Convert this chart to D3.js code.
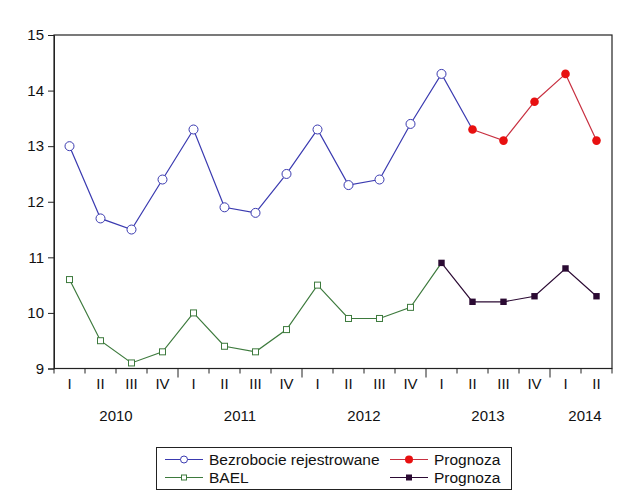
<!DOCTYPE html>
<html><head><meta charset="utf-8">
<script src="https://cdn.jsdelivr.net/npm/d3@7"></script>
<style>body{margin:0;background:#fff}svg{display:block}text{font-family:"Liberation Sans",Arial,sans-serif}</style>
</head><body>
<svg id="c" width="640" height="498"></svg>
<script>
const quarters = ["I","II","III","IV","I","II","III","IV","I","II","III","IV","I","II","III","IV","I","II"];
const years = ["2010","2011","2012","2013","2014"];
const yTicks = [9,10,11,12,13,14,15];
// Bezrobocie rejestrowane (2010 I – 2013 II, last point shared with forecast)
const registered = [13.0,11.7,11.5,12.4,13.3,11.9,11.8,12.5,13.3,12.3,12.4,13.4,14.3,13.3];
// Prognoza (registered) 2013 II – 2014 II
const registeredForecast = [13.3,13.1,13.8,14.3,13.1];
const registeredForecastStart = 13;
// BAEL (2010 I – 2013 I)
const bael = [10.6,9.5,9.1,9.3,10.0,9.4,9.3,9.7,10.5,9.9,9.9,10.1,10.9];
// Prognoza (BAEL) 2013 I – 2014 II
const baelForecast = [10.9,10.2,10.2,10.3,10.8,10.3];
const baelForecastStart = 12;

const svg = d3.select("#c");
const L = 54, R = 612, T = 35, B = 368.5;
const idx = d3.range(quarters.length);
const x = d3.scaleBand().domain(idx).range([L, R]);
const xc = i => x(i) + x.bandwidth()/2;
const y = d3.scaleLinear().domain([9,15]).range([B, T]);

const axisColor = "#222";
const FS = 15;
// frame
svg.append("rect").attr("x",L).attr("y",T).attr("width",R-L).attr("height",B-T)
  .attr("fill","none").attr("stroke",axisColor).attr("stroke-width",1.2);

// y axis
const ya = svg.append("g").attr("transform",`translate(${L},0)`)
  .call(d3.axisLeft(y).tickValues(yTicks).tickSize(6).tickPadding(4).tickFormat(d3.format("d")));
ya.select(".domain").attr("stroke",axisColor);
ya.selectAll(".tick line").attr("stroke",axisColor);
ya.selectAll("text").attr("font-size",FS).attr("fill","#111").attr("font-family","Liberation Sans, Arial, sans-serif");

// x axis ticks at band boundaries
const bounds = d3.range(quarters.length+1).map(k => L + k*x.bandwidth());
svg.append("g").selectAll("line").data(bounds).join("line")
  .attr("x1",d=>d).attr("x2",d=>d).attr("y1",B)
  .attr("y2",(d,k)=> (k%4===0 && k>0 && k<quarters.length) ? B+9 : B+5)
  .attr("stroke",axisColor).attr("stroke-width",1);
svg.append("g").selectAll("text").data(quarters).join("text")
  .attr("x",(d,i)=>xc(i)).attr("y",B+20).attr("text-anchor","middle")
  .attr("font-size",FS).attr("fill","#111").text(d=>d);
svg.append("g").selectAll("text").data(years).join("text")
  .attr("x",(d,i)=>{const s=i*4, e=Math.min(i*4+4, quarters.length); return (bounds[s]+bounds[e])/2 + (e-s<4?4:0);})
  .attr("y",B+52).attr("text-anchor","middle")
  .attr("font-size",FS).attr("fill","#111").text(d=>d);

const line = d3.line().x(d=>xc(d.i)).y(d=>y(d.v));
const pts = (arr, start) => arr.map((v,k)=>({i:start+k, v}));

const cBlue="#3a3ab0", cGreen="#3d7a3d", cRed="#e81010", cRedLine="#c83040", cDark="#2b0a33";

const regPts = pts(registered,0);
svg.append("path").attr("d",line(regPts)).attr("fill","none").attr("stroke",cBlue).attr("stroke-width",1.2);
const baelPts = pts(bael,0);
svg.append("path").attr("d",line(baelPts)).attr("fill","none").attr("stroke",cGreen).attr("stroke-width",1.2);
const rfPts = pts(registeredForecast,registeredForecastStart);
svg.append("path").attr("d",line(rfPts)).attr("fill","none").attr("stroke",cRedLine).attr("stroke-width",1.2);
const bfPts = pts(baelForecast,baelForecastStart);
svg.append("path").attr("d",line(bfPts)).attr("fill","none").attr("stroke",cDark).attr("stroke-width",1.2);

svg.append("g").selectAll("circle").data(regPts.slice(0,registeredForecastStart)).join("circle")
  .attr("cx",d=>xc(d.i)).attr("cy",d=>y(d.v)).attr("r",4.5)
  .attr("fill","#fff").attr("stroke",cBlue).attr("stroke-width",1);
svg.append("g").selectAll("rect").data(baelPts.slice(0,baelForecastStart)).join("rect")
  .attr("x",d=>xc(d.i)-3).attr("y",d=>y(d.v)-3).attr("width",6).attr("height",6)
  .attr("fill","#fff").attr("stroke",cGreen).attr("stroke-width",1);
svg.append("g").selectAll("circle").data(rfPts).join("circle")
  .attr("cx",d=>xc(d.i)).attr("cy",d=>y(d.v)).attr("r",4.3).attr("fill",cRed);
svg.append("g").selectAll("rect").data(bfPts).join("rect")
  .attr("x",d=>xc(d.i)-3.2).attr("y",d=>y(d.v)-3.2).attr("width",6.4).attr("height",6.4).attr("fill",cDark);

// legend
const lg = svg.append("g");
lg.append("rect").attr("x",156.5).attr("y",447.5).attr("width",355).attr("height",42)
  .attr("fill","#fff").attr("stroke","#222").attr("stroke-width",1);
const items = [
  {x:165, y:459.5, c:cBlue, label:"Bezrobocie rejestrowane", m:"oc"},
  {x:165, y:477.5, c:cGreen, label:"BAEL", m:"os"},
  {x:390, y:459.5, c:cRedLine, mc:cRed, label:"Prognoza", m:"fc"},
  {x:390, y:477.5, c:cDark, label:"Prognoza", m:"fs"}
];
items.forEach(it=>{
  lg.append("line").attr("x1",it.x).attr("x2",it.x+38).attr("y1",it.y).attr("y2",it.y).attr("stroke",it.c).attr("stroke-width",1.2);
  const mx = it.x+19;
  if(it.m==="oc") lg.append("circle").attr("cx",mx).attr("cy",it.y).attr("r",3.5).attr("fill","#fff").attr("stroke",it.c);
  if(it.m==="os") lg.append("rect").attr("x",mx-2.5).attr("y",it.y-2.5).attr("width",5).attr("height",5).attr("fill","#fff").attr("stroke",it.c);
  if(it.m==="fc") lg.append("circle").attr("cx",mx).attr("cy",it.y).attr("r",4).attr("fill",it.mc);
  if(it.m==="fs") lg.append("rect").attr("x",mx-3).attr("y",it.y-3).attr("width",6).attr("height",6).attr("fill",it.c);
  lg.append("text").attr("x",it.x+44).attr("y",it.y+5.5).attr("font-size",15.5).attr("fill","#111").text(it.label);
});
</script>
</body></html>
